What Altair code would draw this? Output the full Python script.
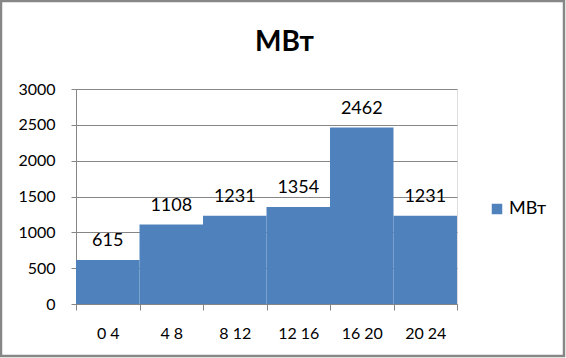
import altair as alt
import pandas as pd

starts = [0, 4, 8, 12, 16, 20]
ends = [4, 8, 12, 16, 20, 24]
values = [615, 1108, 1231, 1354, 2462, 1231]
series_name = "МВт"
y_ticks = [0, 500, 1000, 1500, 2000, 2500, 3000]
x_ticks = [0, 2, 4, 6, 8, 10, 12, 14, 16, 18, 20, 22, 24]

df = pd.DataFrame({"start": starts, "end": ends, "value": values, "series": [series_name] * len(values)})

FONT = "Lato"
GRAY = "#868686"
BLUE = "#4F81BD"

x_axis = alt.Axis(values=x_ticks, title=None, grid=False,
                  labelExpr="datum.value % 4 == 2 ? (datum.value - 2) + ' ' + (datum.value + 2) : ''",
                  tickOpacity={"condition": {"test": "datum.value % 4 == 0", "value": 1}, "value": 0},
                  tickSize=6, labelPadding=15, labelBaseline="top",
                  labelFontSize=16, labelFont=FONT, labelColor="black",
                  domainColor=GRAY, tickColor=GRAY, labelFlush=False, labelOverlap=False)
y_axis = alt.Axis(values=y_ticks, title=None, grid=True, gridColor=GRAY, format="d",
                  tickSize=5, labelPadding=16, labelFontSize=16, labelFont=FONT,
                  labelColor="black", domainColor=GRAY, tickColor=GRAY, labelOverlap=False)
x_scale = alt.Scale(domain=[0, 24], nice=False, zero=False)
y_scale = alt.Scale(domain=[0, 3000], nice=False)

base = alt.Chart(df)

bars = base.mark_rect(color=BLUE).encode(
    x=alt.X("start:Q", scale=x_scale, axis=x_axis),
    x2="end:Q",
    y=alt.Y("value:Q", scale=y_scale, axis=y_axis),
    y2=alt.datum(0),
    color=alt.Color("series:N", scale=alt.Scale(range=[BLUE]),
                    legend=alt.Legend(title=None, orient="none", legendX=412, legendY=111,
                                      symbolType="square", symbolSize=110, symbolStrokeWidth=0,
                                      labelFontSize=18, labelFont=FONT, labelColor="black",
                                      labelOffset=3)),
)

labels = base.transform_calculate(mid="(datum.start + datum.end) / 2").mark_text(
    font=FONT, fontSize=18, color="black", baseline="alphabetic", dy=-14
).encode(
    x=alt.X("mid:Q", scale=x_scale, axis=x_axis),
    y=alt.Y("value:Q", scale=y_scale, axis=y_axis),
    text="value:Q",
)

frame = alt.Chart(pd.DataFrame({"k": [0]})).mark_rect(
    filled=False, stroke="#878787", strokeWidth=2.5, clip=False
).encode(
    x=alt.value(-75), x2=alt.value(564 - 76), y=alt.value(-88), y2=alt.value(356 - 89)
)

chart = alt.layer(bars, labels, frame).properties(
    width=381, height=215,
    title=alt.TitleParams(series_name, font=FONT, fontSize=28, fontWeight="bold",
                          anchor="middle", dx=18, offset=0, dy=79, baseline="alphabetic", color="black"),
    autosize=alt.AutoSizeParams(type="none"),
    padding={"left": 76, "top": 89, "right": 109, "bottom": 54},
).configure_view(stroke=None).configure(background="white")

chart.save("out.html", embed_options={"renderer": "svg", "actions": False})
